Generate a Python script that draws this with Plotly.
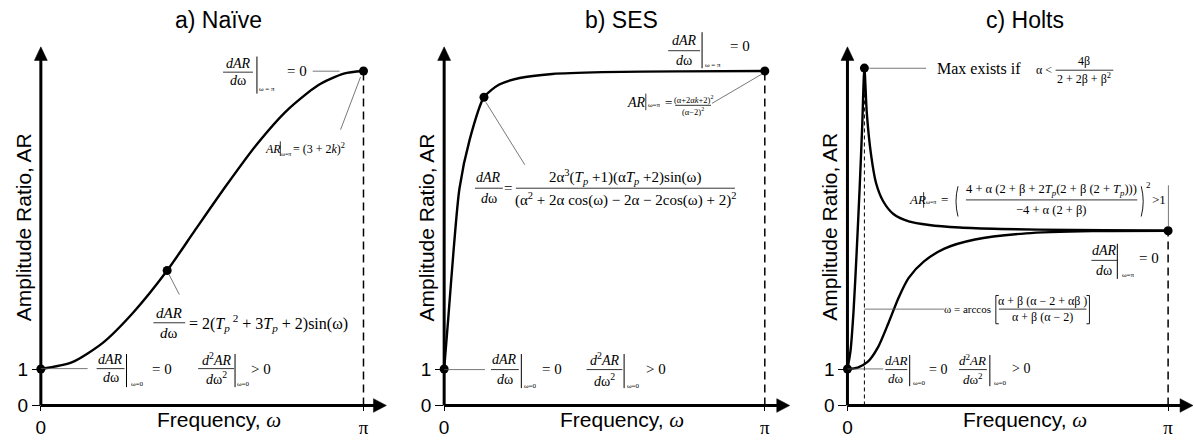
import plotly.graph_objects as go

W, H = 1194, 443
SANS = "Liberation Sans, Arial, sans-serif"
SERIF = "Liberation Serif, Times New Roman, serif"
PI = 3.14159

# ---------------- data ----------------
naive_w = [0.0, 0.30, 0.60, 0.90, 1.23, 1.50, 1.80, 2.10, 2.40, 2.70, 2.95, PI]
naive_ar = [1.0, 1.18, 1.71, 2.55, 3.70, 4.80, 6.01, 7.15, 8.10, 8.78, 9.10, 9.17]
naive_dot_w = [0.0, 1.23, PI]
naive_dot_ar = [1.0, 3.70, 9.17]

ses_w = [0.0, 0.04, 0.09, 0.15, 0.25, 0.39, 0.54, 0.74, 1.06, 1.55, 2.30, PI]
ses_ar = [1.0, 2.38, 4.17, 5.95, 7.29, 8.45, 8.80, 8.98, 9.09, 9.14, 9.16, 9.17]
ses_dot_w = [0.0, 0.39, PI]
ses_dot_ar = [1.0, 8.45, 9.17]

holt_hi_w = [0.0, 0.03, 0.06, 0.09, 0.12, 0.145, 0.166, 0.19, 0.23, 0.28, 0.35, 0.45, 0.60, 0.80, 1.10, 1.50, 2.20, PI]
holt_hi_ar = [1.0, 1.5, 2.6, 4.2, 6.0, 7.7, 9.25, 8.0, 6.9, 6.1, 5.6, 5.25, 5.05, 4.95, 4.88, 4.84, 4.81, 4.79]
holt_lo_w = [0.0, 0.10, 0.20, 0.30, 0.40, 0.50, 0.60, 0.75, 0.95, 1.25, 1.75, 2.40, PI]
holt_lo_ar = [1.0, 1.04, 1.20, 1.60, 2.25, 2.95, 3.50, 3.95, 4.30, 4.55, 4.72, 4.78, 4.79]
holt_dot_w = [0.0, 0.166, PI]
holt_dot_ar = [1.0, 9.25, 4.79]

titles = ["a) Naïve", "b) SES", "c) Holts"]
x_tick_vals = [0.0, PI]
x_tick_labels = ["0", '<span style="font-family:Liberation Serif">π</span>']
y_tick_vals = [0, 1]
y_tick_labels = ["0", "1"]
x_title = 'Frequency, <span style="font-family:Liberation Serif"><i>ω</i></span>'
y_title = "Amplitude Ratio, AR"

# ---------------- geometry (pixels) ----------------
Y0, YPX, YTOP = 415.8, 37.4, 48
panels = [dict(x0=36, xpi=360, tip=383), dict(x0=441, xpi=763, tip=788), dict(x0=846, xpi=1168, tip=1193)]


def px(x):
    return x / W


def py(y):
    return 1 - y / H


annots = []
shapes = []


def txt(x, y, s, size=14, font=SERIF, anchor="center", angle=0):
    annots.append(dict(x=px(x), y=py(y), xref="paper", yref="paper", text=s, showarrow=False,
                       xanchor=anchor, yanchor="middle", textangle=angle, borderpad=0,
                       font=dict(family=font, size=size, color="black")))


def seg(x0, y0, x1, y1, w=1.0, color="black", dash=None):
    ln = dict(color=color, width=w)
    if dash:
        ln["dash"] = dash
    shapes.append(dict(type="line", xref="paper", yref="paper", x0=px(x0), y0=py(y0),
                       x1=px(x1), y1=py(y1), line=ln))


def lead(x0, y0, x1, y1):
    seg(x0, y0, x1, y1, 0.8, "#555555")


def frac(cx, cy, num, den, w, size=14, gap=10):
    txt(cx, cy - gap, num, size)
    txt(cx, cy + gap, den, size)
    seg(cx - w / 2, cy, cx + w / 2, cy, 0.8)


def path(d_pts, fill=None, w=0.9):
    shapes.append(dict(type="path", xref="paper", yref="paper", path=d_pts,
                       fillcolor=fill if fill else "rgba(0,0,0,0)",
                       line=dict(color="black", width=w)))


def tri(points):
    d = "M " + " L ".join(f"{px(a)},{py(b)}" for a, b in points) + " Z"
    path(d, "black", 0.5)


def paren(x, y0, y1, left=True, bulge=4):
    xm = x - bulge if left else x + bulge
    ym = (y0 + y1) / 2
    path(f"M {px(x)},{py(y0)} Q {px(xm)},{py(ym)} {px(x)},{py(y1)}")


def bracket(x, y0, y1, left=True, arm=3):
    xa = x + arm if left else x - arm
    path(f"M {px(xa)},{py(y0)} L {px(x)},{py(y0)} L {px(x)},{py(y1)} L {px(xa)},{py(y1)}")


fig = go.Figure()
curves = [
    [(naive_w, naive_ar)],
    [(ses_w, ses_ar)],
    [(holt_hi_w, holt_hi_ar), (holt_lo_w, holt_lo_ar)],
]
dots = [(naive_dot_w, naive_dot_ar), (ses_dot_w, ses_dot_ar), (holt_dot_w, holt_dot_ar)]

for i, p in enumerate(panels):
    sfx = "" if i == 0 else str(i + 1)
    xa, ya = "x" + sfx, "y" + sfx
    xr = [0, PI * (p["tip"] - p["x0"]) / (p["xpi"] - p["x0"])]
    yr = [0, (Y0 - YTOP) / YPX]
    fig.update_layout(**{
        "xaxis" + sfx: dict(domain=[p["x0"] / W, p["tip"] / W], range=xr, anchor=ya,
                            tickvals=x_tick_vals, ticktext=x_tick_labels, ticks="outside",
                            ticklen=5, tickwidth=1, tickcolor="black", showgrid=False,
                            zeroline=False, showline=False,
                            tickfont=dict(family=SANS, size=19, color="black")),
        "yaxis" + sfx: dict(domain=[1 - Y0 / H, 1 - YTOP / H], range=yr, anchor=xa,
                            tickvals=y_tick_vals, ticktext=y_tick_labels, ticks="outside",
                            ticklen=8, tickwidth=1, tickcolor="black", showgrid=False,
                            zeroline=False, showline=False,
                            tickfont=dict(family=SANS, size=19, color="black")),
    })
    for (cx, cy) in curves[i]:
        fig.add_trace(go.Scatter(x=cx, y=cy, mode="lines", xaxis=xa, yaxis=ya, cliponaxis=False,
                                 line=dict(color="black", width=2.4, shape="spline", smoothing=0.7),
                                 hoverinfo="skip", showlegend=False))
    dw, da = dots[i]
    shapes.append(dict(type="line", xref=xa, yref=ya, x0=dw[-1], x1=dw[-1], y0=0, y1=da[-1],
                       line=dict(color="black", width=1.5, dash="8px,5px")))
    if i == 2:
        shapes.append(dict(type="line", xref=xa, yref=ya, x0=dw[1], x1=dw[1], y0=0, y1=da[1],
                           line=dict(color="black", width=1, dash="4px,3px")))
    fig.add_trace(go.Scatter(x=dw, y=da, mode="markers", xaxis=xa, yaxis=ya, cliponaxis=False,
                             marker=dict(color="black", size=9), hoverinfo="skip", showlegend=False))
    x0 = p["x0"]
    seg(x0, Y0, x0, YTOP + 12, 3)
    tri([(x0, YTOP), (x0 - 6.5, YTOP + 14), (x0 + 6.5, YTOP + 14)])
    seg(x0, Y0, p["tip"] - 11, Y0, 3)
    tri([(p["tip"], Y0), (p["tip"] - 13, Y0 - 7), (p["tip"] - 13, Y0 + 7)])
    mid = (x0 + p["tip"]) / 2
    txt(mid + 5, 20, titles[i], 23, SANS)
    txt(mid + 5, 431, x_title, 21, SANS)
    txt(x0 - 18, 233, y_title, 21, SANS, angle=-90)

# ---------------- panel a annotations ----------------
frac(234, 74, "<i>dAR</i>", "<i>d</i>ω", 30, 14, 9)
seg(253, 58, 253, 96, 1)
txt(263, 91, "ω = π", 7)
txt(293, 73, "= 0", 15)
lead(309, 73, 336, 73)
txt(269, 153, "<i>AR</i>", 12)
seg(276.5, 145, 276.5, 160, 0.8)
txt(282, 158, "ω=π", 6)
txt(288, 152, "= (3 + 2<i>k</i>)<sup>2</sup>", 12, anchor="left")
lead(337, 133, 357, 79)
lead(165, 282, 175, 302)
frac(165, 331, "<i>dAR</i>", "<i>d</i>ω", 32, 15, 10)
txt(265, 331, "= 2(<i>T<sub>p</sub></i><sup> 2</sup> + 3<i>T<sub>p</sub></i> + 2)sin(ω)", 16)
lead(36, 378, 83, 378)
frac(106, 378, "<i>dAR</i>", "<i>d</i>ω", 28, 14, 9.5)
seg(122, 363, 122, 397, 1)
txt(133, 394, "ω=0", 7)
txt(158, 378, "= 0", 15)
frac(212, 378, "<i>d</i><sup>2</sup><i>AR</i>", "<i>d</i>ω<sup>2</sup>", 36, 14, 9.5)
seg(231, 363, 231, 397, 1)
txt(240, 394, "ω=0", 7)
txt(257, 378, "> 0", 15)

# ---------------- panel b annotations ----------------
frac(682, 52, "<i>dAR</i>", "<i>d</i>ω", 32, 14, 10)
seg(700, 33, 700, 70, 1)
txt(711, 67, "ω = π", 7)
txt(738, 47, "= 0", 15)
txt(634, 105, "<i>AR</i>", 14)
seg(643.5, 96, 643.5, 113, 0.8)
txt(652, 108, "ω=π", 7)
txt(666, 105, "=", 13)
frac(691, 108, "(α+2α<i>k</i>+2)<sup>2</sup>", "(α−2)<sup>2</sup>", 36, 8.5, 6)
lead(710, 106, 760, 76)
lead(483, 105, 522, 169)
frac(486, 193, "<i>dAR</i>", "<i>d</i>ω", 28, 14, 11)
txt(505, 193, "=", 15)
frac(623, 193, "2α<sup>3</sup>(<i>T<sub>p</sub></i> +1)(α<i>T<sub>p</sub></i> +2)sin(ω)",
     "(α<sup>2</sup> + 2α cos(ω) − 2α − 2cos(ω) + 2)<sup>2</sup>", 220, 15, 12)
lead(441, 379, 482, 379)
frac(502, 379, "<i>dAR</i>", "<i>d</i>ω", 28, 14, 10.5)
seg(518.5, 363, 518.5, 398, 1)
txt(528, 396, "ω=0", 7)
txt(549, 378, "= 0", 15)
frac(602, 379, "<i>d</i><sup>2</sup><i>AR</i>", "<i>d</i>ω<sup>2</sup>", 36, 14, 10.5)
seg(621.7, 363, 621.7, 398, 1)
txt(631, 396, "ω=0", 7)
txt(654, 378, "> 0", 15)

# ---------------- panel c annotations ----------------
lead(868, 70, 925, 70)
txt(978.5, 70, "Max exists if", 16)
txt(1043, 72, "α <", 12)
frac(1084, 72, "4β", "2 + 2β + β<sup>2</sup>", 58, 12, 9)
txt(916, 205, "<i>AR</i>", 13)
seg(922.5, 197, 922.5, 213, 0.8)
txt(930, 207, "ω=π", 6)
txt(943, 205, "=", 13)
paren(957, 191, 222, left=True)
frac(1051, 205, "4 + α (2 + β + 2<i>T<sub>p</sub></i>(2 + β (2 + <i>T<sub>p</sub></i>)))",
     "−4 + α (2 + β)", 172, 12.5, 10)
paren(1141, 191, 222, left=False)
txt(1148, 190, "2", 9)
txt(1159, 205, ">1", 13)
lead(1168.3, 190, 1168.3, 233)
frac(1104, 267, "<i>dAR</i>", "<i>d</i>ω", 26, 14, 10)
seg(1117, 250, 1117, 286, 1)
txt(1128, 282, "ω=π", 7)
txt(1149, 265, "= 0", 15)
lead(863, 317, 943, 317)
txt(991, 317, "ω = arccos", 11, anchor="right")
bracket(995, 303, 332, left=True)
frac(1042, 317, "α + β (α − 2 + αβ )", "α + β (α − 2)", 88, 12, 8)
bracket(1089, 303, 332, left=False)
lead(846, 378.3, 882, 378.3)
frac(895, 379, "<i>dAR</i>", "<i>d</i>ω", 22, 13, 9.5)
seg(908.5, 364, 908.5, 396, 1)
txt(918, 393, "ω=0", 7)
txt(937, 379, "= 0", 14)
frac(972, 379, "<i>d</i><sup>2</sup><i>AR</i>", "<i>d</i>ω<sup>2</sup>", 28, 13, 9.5)
seg(989, 364, 989, 396, 1)
txt(1000, 393, "ω=0", 7)
txt(1020, 378, "> 0", 14)

fig.update_layout(width=W, height=H, autosize=False, margin=dict(l=0, r=0, t=0, b=0),
                  paper_bgcolor="white", plot_bgcolor="white", showlegend=False,
                  annotations=annots, shapes=shapes)
fig.write_html("out.html", config={"displayModeBar": False},
               post_script="document.body.style.margin='0';document.body.style.overflow='hidden';")
